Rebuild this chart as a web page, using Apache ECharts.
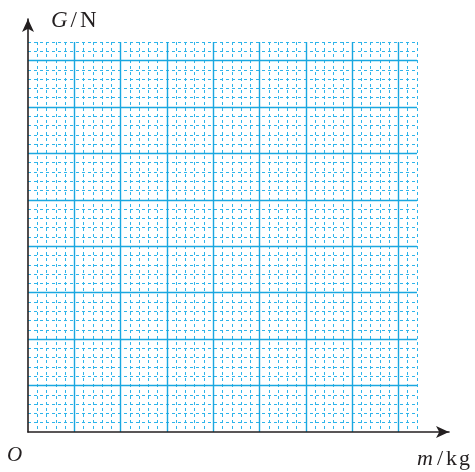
<!DOCTYPE html>
<html>
<head>
<meta charset="utf-8">
<script src="https://cdn.jsdelivr.net/npm/echarts@6/dist/echarts.min.js"></script>
<style>html,body{margin:0;padding:0;background:#fff}#c{width:475px;height:472px}</style>
</head>
<body>
<div id="c"></div>
<script>
// Blank graph paper: mass m (kg) on x, weight G (N) on y — no plotted data.
const xAxisName = ['m', '/', 'k', 'g'];
const yAxisName = ['G', '/', 'N'];
const originLabel = 'O';
const gridMinorCells = [0, 42];   // extent of the grid in minor cells
const minorStep = [1];
const majorStep = [5];

const serif = "'Liberation Serif', 'DejaVu Serif', serif";
const ink = '#231f20';
const majorColor = '#1aa7e0';
const minorColor = '#2fb4ea';

function gridAxis(gridIndex, step, isMajor) {
  return {
    type: 'value', gridIndex: gridIndex,
    min: gridMinorCells[0], max: gridMinorCells[1], interval: step,
    z: isMajor ? 3 : 1,
    axisLine: {show: false}, axisTick: {show: false}, axisLabel: {show: false},
    splitLine: isMajor
      ? {show: true, showMinLine: false, showMaxLine: false, lineStyle: {color: majorColor, width: 1.4, type: 'solid'}}
      : {show: true, showMinLine: false, showMaxLine: true, lineStyle: {color: minorColor, width: 1, type: [3, 3]}}
  };
}
function arrowAxis(gridIndex) {
  return {
    type: 'value', gridIndex: gridIndex, min: 0, max: 1, z: 5,
    axisLine: {show: true, symbol: ['none', 'arrow'], symbolSize: [9, 13],
      lineStyle: {color: ink, width: 1.6}},
    axisTick: {show: false}, axisLabel: {show: false}, splitLine: {show: false}
  };
}

const chart = echarts.init(document.getElementById('c'), null, {renderer: 'canvas'});
chart.setOption({
  backgroundColor: '#fff',
  animation: false,
  grid: [
    {left: 28, top: 42, width: 389, height: 390},
    {left: 28, top: 19, width: 421, height: 413}
  ],
  xAxis: [gridAxis(0, minorStep[0], false), gridAxis(0, majorStep[0], true), arrowAxis(1)],
  yAxis: [gridAxis(0, minorStep[0], false), gridAxis(0, majorStep[0], true), arrowAxis(1)],
  series: [{type: 'scatter', xAxisIndex: 0, yAxisIndex: 0, data: []}],
  graphic: [
    {type: 'text', left: 51, top: 9, z: 10, style: {
      text: '{i|' + yAxisName[0] + '}{s|' + yAxisName[1] + '}{n|' + yAxisName[2] + '}',
      rich: {
        i: {fontFamily: serif, fontStyle: 'italic', fontSize: 23, fill: ink},
        s: {fontFamily: serif, fontSize: 23, fill: ink, padding: [0, 3, 0, 3]},
        n: {fontFamily: serif, fontSize: 23, fill: ink}
      }}},
    {type: 'text', left: 417, top: 448, z: 10, style: {
      text: '{i|' + xAxisName[0] + '}{s|' + xAxisName[1] + '}{n|' + xAxisName[2] + '}{g|' + xAxisName[3] + '}',
      rich: {
        i: {fontFamily: serif, fontStyle: 'italic', fontSize: 22, fill: ink},
        s: {fontFamily: serif, fontSize: 22, fill: ink, padding: [0, 3, 0, 4]},
        n: {fontFamily: serif, fontSize: 22, fill: ink},
        g: {fontFamily: serif, fontSize: 22, fill: ink, padding: [0, 0, 0, 2]}
      }}},
    {type: 'text', left: 7, top: 445, z: 10, style: {
      text: originLabel, fontFamily: serif, fontStyle: 'italic', fontSize: 21, fill: ink}}
  ]
});
</script>
</body>
</html>
